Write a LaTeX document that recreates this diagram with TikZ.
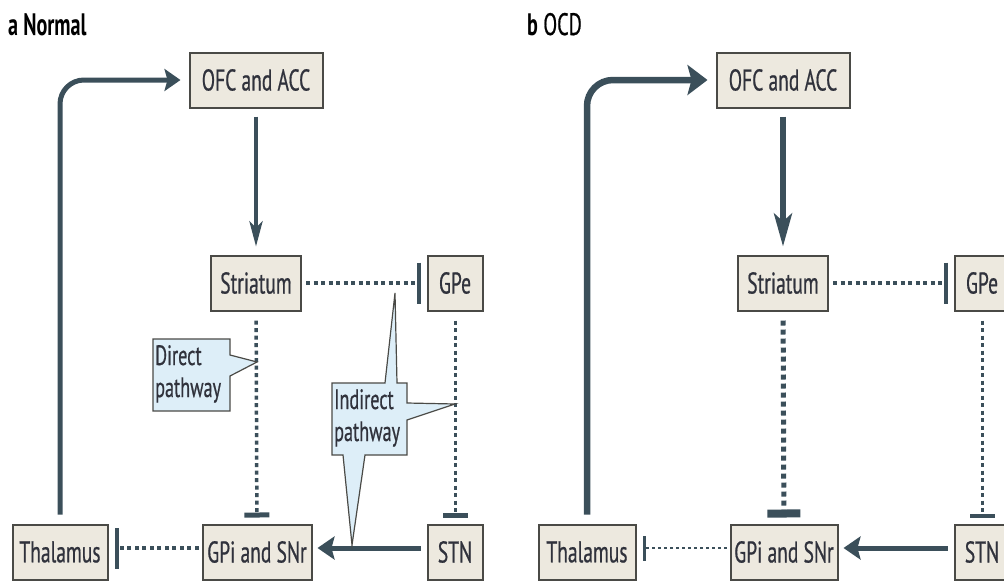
\documentclass[tikz,border=0pt]{standalone}
\usepackage{fontspec}
\setmainfont{PT Sans}[FakeStretch=0.65, UprightFeatures={FakeBold=0.6}]
\usetikzlibrary{arrows.meta, positioning}
\definecolor{linec}{HTML}{3B4F5A}
\definecolor{boxfill}{HTML}{EDE9DF}
\definecolor{boxdraw}{HTML}{4A4A46}
\definecolor{txtc}{HTML}{30323C}
\definecolor{callfill}{HTML}{DDEEF8}
\tikzset{box/.style={draw=boxdraw, line width=2pt, fill=boxfill, minimum height=55pt, inner sep=0pt, text=txtc, font=\fontsize{30}{32}\selectfont},
    lin/.style={draw=linec},
    dotline/.style={draw=linec, dash pattern=on 4pt off 3.5pt},
    callout/.style={draw=boxdraw, line width=1.2pt, fill=callfill, line join=miter},
    calltext/.style={text=txtc, align=left, inner sep=0pt, font=\fontsize{28}{32}\selectfont},
    paneltitle/.style={anchor=base west, inner sep=0pt, text=black, font=\fontsize{31}{33}\selectfont}}

\begin{document}
\begin{tikzpicture}[x=1pt, y=-1pt]
                 \useasboundingbox (0,0) rectangle (1004,582);
                 \clip (0,0) rectangle (1004,582);

                 % a Normal
                 \node[paneltitle] (titleA) at (8,35) {\textbf{a Normal}};
                 \node[box, minimum width=133pt] (ofcA) at (256,80) {OFC and ACC};
                 \node[box, minimum width=90pt] (strA) at (256,283) {Striatum};
                 \node[box, minimum width=55pt] (gpeA) at (455,283) {GPe};
                 \node[box, minimum width=109pt] (gpiA) at (257,552) {GPi and SNr};
                 \node[box, minimum width=95pt] (thalA) at (60,552) {Thalamus};
                 \node[box, minimum width=55pt] (stnA) at (455,552) {STN};

                 \draw[lin, line width=4pt, -{Stealth[length=25pt,width=13pt,inset=6pt]}, shorten <=8pt, shorten >=8pt] (ofcA) -- (strA);
                 \draw[lin, line width=5pt, rounded corners=24pt, -{Stealth[length=16pt,width=22pt,inset=3pt]}, shorten <=9pt, shorten >=8pt] (thalA.north) |- (ofcA.west);
                 \draw[dotline, line width=3.5pt, -{Bar[width=41pt,line width=4pt]}, shorten <=4pt, shorten >=6pt] (strA) -- (gpeA);
                 \draw[dotline, line width=3.5pt, -{Bar[width=25pt,line width=5pt]}, shorten <=9pt, shorten >=6pt] (strA) -- (gpiA);
                 \draw[dotline, line width=3pt, -{Bar[width=25pt,line width=5pt]}, shorten <=9pt, shorten >=6pt] (gpeA) -- (stnA);
                 \draw[lin, line width=5pt, -{Stealth[length=17pt,width=23pt,inset=3pt]}, shorten <=6pt, shorten >=5pt] ([yshift=4pt]stnA.west) -- ([yshift=4pt]gpiA.east);
                 \draw[dotline, line width=3.5pt, -{Bar[width=41pt,line width=4pt]}, shorten <=3pt, shorten >=6pt] ([yshift=4pt]gpiA.west) -- ([yshift=4pt]thalA.east);

                 \draw[callout] (153,339) -- (230,339) -- (230,355) -- (257,362) -- (230,376) -- (230,411) -- (153,411) -- cycle;
                 \node[calltext, anchor=base west] (directA) at (155,397) {Direct\\pathway};
                 \draw[callout] (332,383) -- (385,383) -- (395,293) -- (397,383) -- (407,383) -- (407,403) -- (455,404) -- (407,420) -- (407,455) -- (365,455) -- (352,545) -- (343,455) -- (332,455) -- cycle;
                 \node[calltext, anchor=base west] (indirectA) at (334,441) {Indirect\\pathway};

                 % b OCD
                 \node[paneltitle] (titleB) at (527,35) {\textbf{b} OCD};
                 \node[box, minimum width=133pt] (ofcB) at (783,80) {OFC and ACC};
                 \node[box, minimum width=90pt] (strB) at (783,283) {Striatum};
                 \node[box, minimum width=55pt] (gpeB) at (982,283) {GPe};
                 \node[box, minimum width=107pt] (gpiB) at (784,552) {GPi and SNr};
                 \node[box, minimum width=97pt] (thalB) at (587,552) {Thalamus};
                 \node[box, minimum width=55pt] (stnB) at (982,552) {STN};

                 \draw[lin, line width=5.5pt, -{Stealth[length=33pt,width=18pt,inset=8pt]}, shorten <=8pt, shorten >=8pt] (ofcB) -- (strB);
                 \draw[lin, line width=6.5pt, rounded corners=26pt, -{Stealth[length=20pt,width=30pt,inset=4pt]}, shorten <=9pt, shorten >=8pt] (thalB.north) |- (ofcB.west);
                 \draw[dotline, line width=3.5pt, -{Bar[width=41pt,line width=4pt]}, shorten <=4pt, shorten >=6pt] (strB) -- (gpeB);
                 \draw[dotline, line width=5pt, dash pattern=on 5pt off 4pt, -{Bar[width=33pt,line width=8pt]}, shorten <=9pt, shorten >=6pt] (strB) -- (gpiB);
                 \draw[dotline, line width=3pt, -{Bar[width=25pt,line width=4pt]}, shorten <=9pt, shorten >=6pt] (gpeB) -- (stnB);
                 \draw[lin, line width=5pt, -{Stealth[length=17pt,width=23pt,inset=3pt]}, shorten <=6pt, shorten >=5pt] ([yshift=4pt]stnB.west) -- ([yshift=4pt]gpiB.east);
                 \draw[dotline, line width=2.5pt, dash pattern=on 3pt off 3pt, -{Bar[width=25pt,line width=3pt]}, shorten <=3pt, shorten >=6pt] ([yshift=4pt]gpiB.west) -- ([yshift=4pt]thalB.east);
             \end{tikzpicture}
\end{document}
